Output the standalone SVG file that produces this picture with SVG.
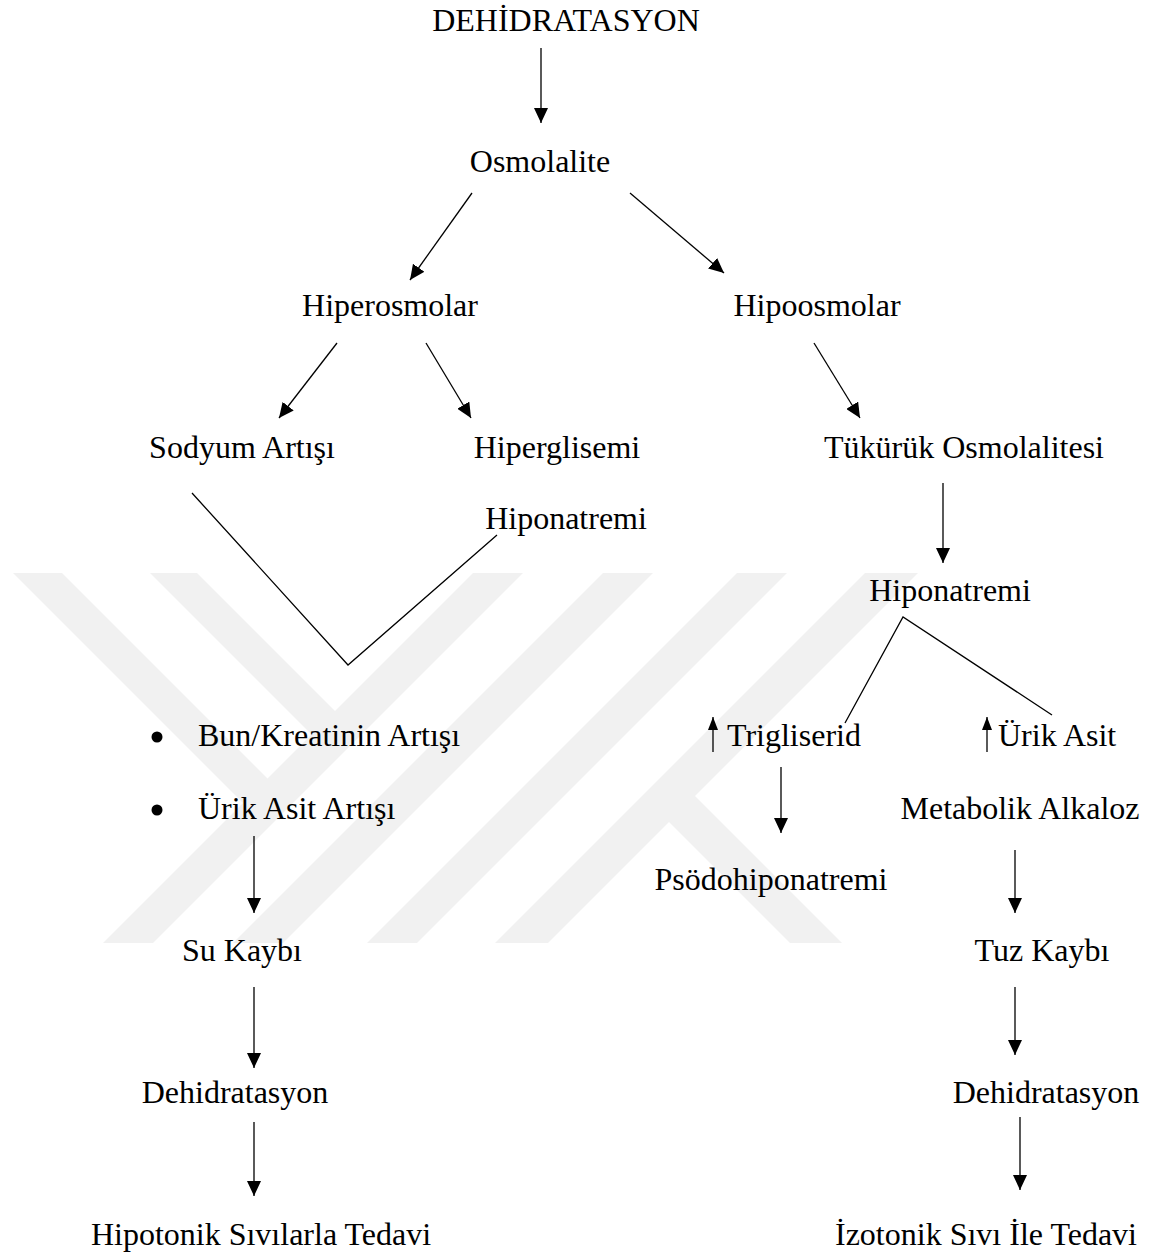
<svg xmlns="http://www.w3.org/2000/svg" width="1152" height="1254" viewBox="0 0 1152 1254">
<style>
text{font-family:"Liberation Serif","Times New Roman",serif;font-size:32px;fill:#000}
.c{text-anchor:middle}
.ln{stroke:#000;stroke-width:1.3;fill:none}
.ar{marker-end:url(#ah)}
.sa{marker-end:url(#sh)}
.wm{fill:#f1f1f1}
</style>
<defs>
<marker id="ah" viewBox="0 0 15 14" refX="15" refY="7" markerWidth="15" markerHeight="14" markerUnits="userSpaceOnUse" orient="auto"><path d="M0,0 L15,7 L0,14 z" fill="#000"/></marker>
<marker id="sh" viewBox="0 0 13 10" refX="13" refY="5" markerWidth="13" markerHeight="10" markerUnits="userSpaceOnUse" orient="auto"><path d="M0,0 L13,5 L0,10 z" fill="#000"/></marker>
</defs>
<rect width="1152" height="1254" fill="#fff"/>
<g id="watermark">
<polygon class="wm" points="13,573 62,573 292,803 243,803"/>
<polygon class="wm" points="150,573 197,573 359,735 312,735"/>
<polygon class="wm" points="473,573 523,573 153,943 103,943"/>
<polygon class="wm" points="603,573 653,573 283,943 233,943"/>
<polygon class="wm" points="737,573 787,573 417,943 367,943"/>
<polygon class="wm" points="865,573 918,573 548,943 495,943"/>
<polygon class="wm" points="643,796 695,796 842,943 790,943"/>
</g>
<g id="connectors">
<line class="ln ar" x1="541" y1="48" x2="541" y2="123"/>
<line class="ln ar" x1="472" y1="193" x2="410" y2="280"/>
<line class="ln ar" x1="630" y1="193" x2="724" y2="273"/>
<line class="ln ar" x1="337" y1="343" x2="279" y2="418"/>
<line class="ln ar" x1="426" y1="343" x2="471" y2="418"/>
<line class="ln ar" x1="814" y1="343" x2="860" y2="418"/>
<line class="ln ar" x1="943" y1="483" x2="943" y2="563"/>
<polyline class="ln" points="192,493 348,665 497,535"/>
<polyline class="ln" points="845,723 903,617 1052,715"/>
<line class="ln sa" x1="713" y1="752" x2="713" y2="717"/>
<line class="ln sa" x1="987" y1="752" x2="987" y2="717"/>
<line class="ln ar" x1="781" y1="767" x2="781" y2="833"/>
<line class="ln ar" x1="1015" y1="850" x2="1015" y2="913"/>
<line class="ln ar" x1="254" y1="836" x2="254" y2="913"/>
<line class="ln ar" x1="254" y1="987" x2="254" y2="1068"/>
<line class="ln ar" x1="254" y1="1122" x2="254" y2="1196"/>
<line class="ln ar" x1="1015" y1="987" x2="1015" y2="1055"/>
<line class="ln ar" x1="1020" y1="1117" x2="1020" y2="1190"/>
</g>
<g id="n-dehidratasyon"><text class="c" x="566" y="31">DEHİDRATASYON</text></g>
<g id="n-osmolalite"><text class="c" x="540" y="172">Osmolalite</text></g>
<g id="n-hiperosmolar"><text class="c" x="390" y="316">Hiperosmolar</text></g>
<g id="n-hipoosmolar"><text class="c" x="817" y="316">Hipoosmolar</text></g>
<g id="n-sodyum"><text class="c" x="242" y="458">Sodyum Artışı</text></g>
<g id="n-hiperglisemi"><text class="c" x="557" y="458">Hiperglisemi</text></g>
<g id="n-tukuruk"><text class="c" x="964" y="458">Tükürük Osmolalitesi</text></g>
<g id="n-hiponatremi-l"><text class="c" x="566" y="529">Hiponatremi</text></g>
<g id="n-hiponatremi-r"><text class="c" x="950" y="601">Hiponatremi</text></g>
<g id="n-bullets">
<circle cx="157" cy="737" r="5.5"/>
<text x="198" y="746">Bun/Kreatinin Artışı</text>
<circle cx="157" cy="810" r="5.5"/>
<text x="198" y="819">Ürik Asit Artışı</text>
</g>
<g id="n-trigliserid"><text x="727" y="746">Trigliserid</text></g>
<g id="n-urikasit"><text x="998" y="746">Ürik Asit</text></g>
<g id="n-metabolik"><text class="c" x="1020" y="819">Metabolik Alkaloz</text></g>
<g id="n-psodo"><text class="c" x="771" y="890">Psödohiponatremi</text></g>
<g id="n-sukaybi"><text class="c" x="242" y="961">Su Kaybı</text></g>
<g id="n-tuzkaybi"><text class="c" x="1042" y="961">Tuz Kaybı</text></g>
<g id="n-dehid-l"><text class="c" x="235" y="1103">Dehidratasyon</text></g>
<g id="n-dehid-r"><text class="c" x="1046" y="1103">Dehidratasyon</text></g>
<g id="n-hipotonik"><text class="c" x="261" y="1245">Hipotonik Sıvılarla Tedavi</text></g>
<g id="n-izotonik"><text class="c" x="986" y="1245">İzotonik Sıvı İle Tedavi</text></g>
</svg>
